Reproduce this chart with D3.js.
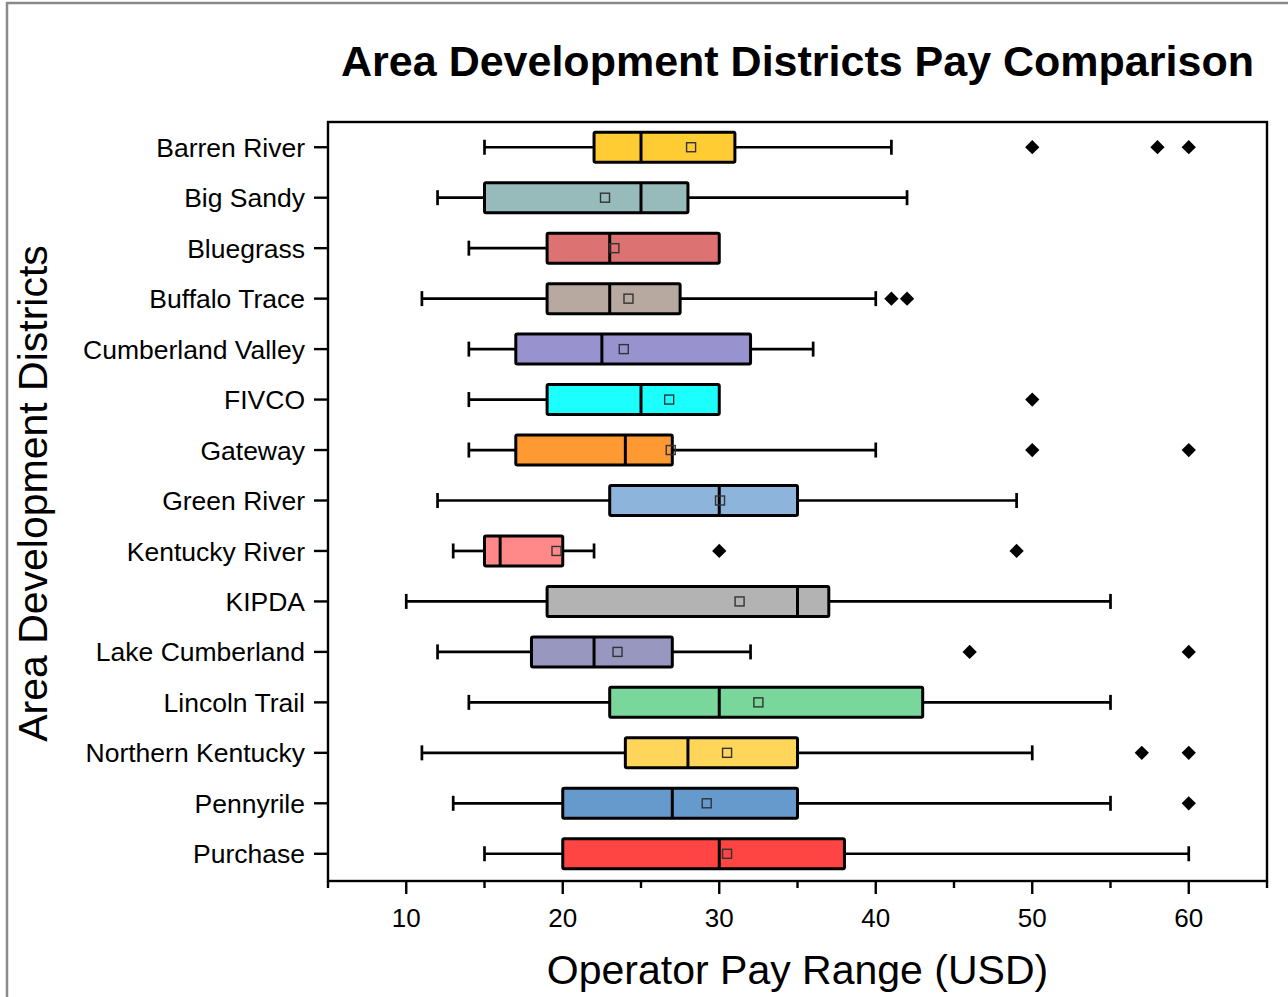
<!DOCTYPE html>
<html><head><meta charset="utf-8">
<script src="https://cdn.jsdelivr.net/npm/d3@7"></script>
<style>body{margin:0;background:#fff}svg{display:block}text{font-family:"Liberation Sans",Arial,sans-serif}</style>
</head><body>
<script>
const categories = ["Barren River","Big Sandy","Bluegrass","Buffalo Trace","Cumberland Valley","FIVCO","Gateway","Green River","Kentucky River","KIPDA","Lake Cumberland","Lincoln Trail","Northern Kentucky","Pennyrile","Purchase"];
const whiskerLow  = [15,12,14,11,14,14,14,12,13,10,12,14,11,13,15];
const q1          = [22,15,19,19,17,19,17,23,15,19,18,23,24,20,20];
const medians     = [25,25,23,23,22.5,25,24,30,16,35,22,30,28,27,30];
const means       = [28.2,22.7,23.3,24.2,23.9,26.8,26.9,30.05,19.6,31.3,23.5,32.5,30.5,29.2,30.5];
const q3          = [31,28,30,27.5,32,30,27,35,20,37,27,43,35,35,38];
const whiskerHigh = [41,42,30,40,36,30,40,49,22,55,32,55,50,55,60];
const outliers    = [[50,58,60],[],[],[41,42],[],[50],[50,60],[],[30,49],[],[46,60],[],[57,60],[60],[]];
const colors = ["#FFCC33","#97BBBA","#DD7272","#B8A9A0","#9893CF","#1CFFFF","#FF9A33","#8DB4DA","#FF8888","#B3B3B3","#9797BF","#79D79B","#FFD65A","#6699CC","#FF4444"];
const xTicks = [10,20,30,40,50,60];
const xMinorTicks = [5,15,25,35,45,55,65];

const W = 1288, H = 997;
const svg = d3.select("body").append("svg").attr("width", W).attr("height", H);

// outer frame
svg.append("rect").attr("x",7).attr("y",3).attr("width",W+20).attr("height",H+20)
  .attr("fill","none").attr("stroke","#8a8a8a").attr("stroke-width",2.5);

const L = 328, R = 1267, T = 122, B = 881;
const x = d3.scaleLinear().domain([5,65]).range([L,R]);
const y = d3.scaleBand().domain(categories).range([T,B-2]).padding(0);
const boxH = 30, capH = 15;

const data = categories.map((c,i)=>({c, lo:whiskerLow[i], q1:q1[i], med:medians[i], mean:means[i], q3:q3[i], hi:whiskerHigh[i], out:outliers[i], col:colors[i]}));

// title
svg.append("text").attr("x",(L+R)/2).attr("y",76).attr("text-anchor","middle")
  .attr("font-size",43).attr("font-weight","bold").text("Area Development Districts Pay Comparison");

const g = svg.append("g");
const rows = g.selectAll("g.row").data(data).join("g").attr("class","row")
  .attr("transform", d=>`translate(0,${y(d.c)+y.bandwidth()/2})`);

const ws = 2.7;
// whiskers
rows.append("line").attr("x1",d=>x(d.lo)).attr("x2",d=>x(d.q1)).attr("stroke","#000").attr("stroke-width",ws);
rows.append("line").attr("x1",d=>x(d.q3)).attr("x2",d=>x(d.hi)).attr("stroke","#000").attr("stroke-width",ws);
rows.append("line").attr("x1",d=>x(d.lo)).attr("x2",d=>x(d.lo)).attr("y1",-capH/2).attr("y2",capH/2).attr("stroke","#000").attr("stroke-width",ws);
rows.filter(d=>d.hi>d.q3).append("line").attr("x1",d=>x(d.hi)).attr("x2",d=>x(d.hi)).attr("y1",-capH/2).attr("y2",capH/2).attr("stroke","#000").attr("stroke-width",ws);
// boxes
rows.append("rect").attr("x",d=>x(d.q1)).attr("width",d=>x(d.q3)-x(d.q1))
  .attr("y",-boxH/2).attr("height",boxH).attr("rx",1.5)
  .attr("fill",d=>d.col).attr("stroke","#000").attr("stroke-width",3);
// median
rows.append("line").attr("x1",d=>x(d.med)).attr("x2",d=>x(d.med)).attr("y1",-boxH/2).attr("y2",boxH/2)
  .attr("stroke","#000").attr("stroke-width",3);
// mean
rows.append("rect").attr("x",d=>x(d.mean)-4.5).attr("y",-4.5).attr("width",9).attr("height",9)
  .attr("fill","none").attr("stroke","#333").attr("stroke-width",1.4);
// outliers
const diamond = d3.symbol().type(d3.symbolDiamond2).size(130);
rows.selectAll("path.out").data(d=>d.out).join("path").attr("class","out")
  .attr("transform", v=>`translate(${x(v)},0)`).attr("d", diamond).attr("fill","#000");

// frame of plot
svg.append("rect").attr("x",L).attr("y",T).attr("width",R-L).attr("height",B-T)
  .attr("fill","none").attr("stroke","#000").attr("stroke-width",2.4);

// bottom axis
const xAxis = svg.append("g").attr("transform",`translate(0,${B})`);
xAxis.selectAll("line.maj").data(xTicks).join("line").attr("class","maj").attr("x1",d=>x(d)).attr("x2",d=>x(d)).attr("y1",0).attr("y2",13).attr("stroke","#000").attr("stroke-width",2.4);
xAxis.selectAll("line.min").data(xMinorTicks).join("line").attr("class","min").attr("x1",d=>x(d)).attr("x2",d=>x(d)).attr("y1",0).attr("y2",7).attr("stroke","#000").attr("stroke-width",2.4);
xAxis.selectAll("text").data(xTicks).join("text").attr("x",d=>x(d)).attr("y",46).attr("text-anchor","middle").attr("font-size",26).text(d=>d);

// left axis
const yAxis = svg.append("g");
yAxis.selectAll("line").data(categories).join("line").attr("x1",L-14).attr("x2",L)
  .attr("y1",d=>y(d)+y.bandwidth()/2).attr("y2",d=>y(d)+y.bandwidth()/2).attr("stroke","#000").attr("stroke-width",2.4);
yAxis.selectAll("text").data(categories).join("text").attr("x",L-23).attr("y",d=>y(d)+y.bandwidth()/2)
  .attr("dy","0.36em").attr("text-anchor","end").attr("font-size",26.5).text(d=>d);

// axis titles
svg.append("text").attr("x",(L+R)/2).attr("y",984).attr("text-anchor","middle").attr("font-size",41).text("Operator Pay Range (USD)");
svg.append("text").attr("transform",`translate(47,${(T+B)/2-8}) rotate(-90)`).attr("text-anchor","middle").attr("font-size",41).text("Area Development Districts");
</script>
</body></html>
